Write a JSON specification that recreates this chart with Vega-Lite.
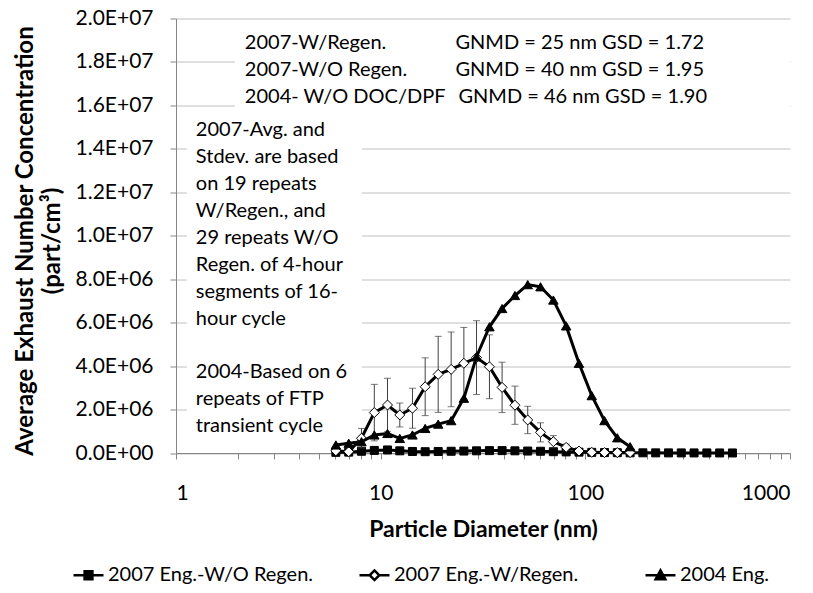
{
  "$schema": "https://vega.github.io/schema/vega-lite/v6.json",
  "width": 614,
  "height": 434.5,
  "autosize": {"type": "none"},
  "padding": {"left": 176, "top": 18.5, "right": 23, "bottom": 140},
  "background": "white",
  "config": {
    "font": "Lato",
    "view": {"stroke": null},
    "axis": {
      "labelFont": "Lato", "titleFont": "Lato", "labelFontSize": 21, "titleFontSize": 24,
      "labelColor": "#000", "titleColor": "#000", "domainColor": "#868686", "tickColor": "#868686",
      "gridColor": "#c0c0c0", "tickSize": 6
    },
    "legend": {
      "labelFont": "Lato", "labelFontSize": 20, "labelColor": "black", "labelLimit": 0
    }
  },
  "datasets": {
    "pts": [
      {"s":"2007 Eng.-W/O Regen.","d":6.04,"v":30000},
      {"s":"2007 Eng.-W/O Regen.","d":6.98,"v":40000},
      {"s":"2007 Eng.-W/O Regen.","d":8.06,"v":80000},
      {"s":"2007 Eng.-W/O Regen.","d":9.31,"v":120000},
      {"s":"2007 Eng.-W/O Regen.","d":10.8,"v":140000},
      {"s":"2007 Eng.-W/O Regen.","d":12.4,"v":100000},
      {"s":"2007 Eng.-W/O Regen.","d":14.3,"v":70000},
      {"s":"2007 Eng.-W/O Regen.","d":16.5,"v":60000},
      {"s":"2007 Eng.-W/O Regen.","d":19.1,"v":70000},
      {"s":"2007 Eng.-W/O Regen.","d":22.1,"v":80000},
      {"s":"2007 Eng.-W/O Regen.","d":25.5,"v":90000},
      {"s":"2007 Eng.-W/O Regen.","d":29.4,"v":100000},
      {"s":"2007 Eng.-W/O Regen.","d":34.0,"v":110000},
      {"s":"2007 Eng.-W/O Regen.","d":39.2,"v":110000},
      {"s":"2007 Eng.-W/O Regen.","d":45.3,"v":100000},
      {"s":"2007 Eng.-W/O Regen.","d":52.3,"v":90000},
      {"s":"2007 Eng.-W/O Regen.","d":60.4,"v":80000},
      {"s":"2007 Eng.-W/O Regen.","d":69.8,"v":60000},
      {"s":"2007 Eng.-W/O Regen.","d":80.6,"v":50000},
      {"s":"2007 Eng.-W/O Regen.","d":93.1,"v":40000},
      {"s":"2007 Eng.-W/O Regen.","d":107.5,"v":30000},
      {"s":"2007 Eng.-W/O Regen.","d":124.1,"v":20000},
      {"s":"2007 Eng.-W/O Regen.","d":143.3,"v":15000},
      {"s":"2007 Eng.-W/O Regen.","d":165.5,"v":10000},
      {"s":"2007 Eng.-W/O Regen.","d":191.1,"v":8000},
      {"s":"2007 Eng.-W/O Regen.","d":220.7,"v":6000},
      {"s":"2007 Eng.-W/O Regen.","d":254.8,"v":5000},
      {"s":"2007 Eng.-W/O Regen.","d":294.3,"v":4000},
      {"s":"2007 Eng.-W/O Regen.","d":339.8,"v":3000},
      {"s":"2007 Eng.-W/O Regen.","d":392.4,"v":3000},
      {"s":"2007 Eng.-W/O Regen.","d":453.2,"v":2000},
      {"s":"2007 Eng.-W/O Regen.","d":523.3,"v":2000},
      {"s":"2007 Eng.-W/Regen.","d":6.04,"v":100000,"sd":50000},
      {"s":"2007 Eng.-W/Regen.","d":6.98,"v":60000,"sd":50000},
      {"s":"2007 Eng.-W/Regen.","d":8.06,"v":680000,"sd":450000},
      {"s":"2007 Eng.-W/Regen.","d":9.31,"v":1860000,"sd":1300000},
      {"s":"2007 Eng.-W/Regen.","d":10.8,"v":2210000,"sd":1230000},
      {"s":"2007 Eng.-W/Regen.","d":12.4,"v":1750000,"sd":550000},
      {"s":"2007 Eng.-W/Regen.","d":14.3,"v":2060000,"sd":920000},
      {"s":"2007 Eng.-W/Regen.","d":16.5,"v":3050000,"sd":1330000},
      {"s":"2007 Eng.-W/Regen.","d":19.1,"v":3620000,"sd":1750000},
      {"s":"2007 Eng.-W/Regen.","d":22.1,"v":3850000,"sd":1720000},
      {"s":"2007 Eng.-W/Regen.","d":25.5,"v":4130000,"sd":1650000},
      {"s":"2007 Eng.-W/Regen.","d":29.4,"v":4390000,"sd":1700000},
      {"s":"2007 Eng.-W/Regen.","d":34.0,"v":3970000,"sd":1470000},
      {"s":"2007 Eng.-W/Regen.","d":39.2,"v":3020000,"sd":1160000},
      {"s":"2007 Eng.-W/Regen.","d":45.3,"v":2200000,"sd":880000},
      {"s":"2007 Eng.-W/Regen.","d":52.3,"v":1520000,"sd":630000},
      {"s":"2007 Eng.-W/Regen.","d":60.4,"v":950000,"sd":440000},
      {"s":"2007 Eng.-W/Regen.","d":69.8,"v":520000,"sd":280000},
      {"s":"2007 Eng.-W/Regen.","d":80.6,"v":260000,"sd":150000},
      {"s":"2007 Eng.-W/Regen.","d":93.1,"v":90000,"sd":60000},
      {"s":"2007 Eng.-W/Regen.","d":107.5,"v":30000,"sd":20000},
      {"s":"2007 Eng.-W/Regen.","d":124.1,"v":20000,"sd":10000},
      {"s":"2007 Eng.-W/Regen.","d":143.3,"v":20000,"sd":10000},
      {"s":"2007 Eng.-W/Regen.","d":165.5,"v":20000,"sd":10000},
      {"s":"2004 Eng.","d":6.04,"v":370000},
      {"s":"2004 Eng.","d":6.98,"v":450000},
      {"s":"2004 Eng.","d":8.06,"v":520000},
      {"s":"2004 Eng.","d":9.31,"v":830000},
      {"s":"2004 Eng.","d":10.8,"v":900000},
      {"s":"2004 Eng.","d":12.4,"v":670000},
      {"s":"2004 Eng.","d":14.3,"v":830000},
      {"s":"2004 Eng.","d":16.5,"v":1130000},
      {"s":"2004 Eng.","d":19.1,"v":1330000},
      {"s":"2004 Eng.","d":22.1,"v":1490000},
      {"s":"2004 Eng.","d":25.5,"v":2520000},
      {"s":"2004 Eng.","d":29.4,"v":4430000},
      {"s":"2004 Eng.","d":34.0,"v":5810000},
      {"s":"2004 Eng.","d":39.2,"v":6650000},
      {"s":"2004 Eng.","d":45.3,"v":7250000},
      {"s":"2004 Eng.","d":52.3,"v":7750000},
      {"s":"2004 Eng.","d":60.4,"v":7650000},
      {"s":"2004 Eng.","d":69.8,"v":7040000},
      {"s":"2004 Eng.","d":80.6,"v":5850000},
      {"s":"2004 Eng.","d":93.1,"v":4130000},
      {"s":"2004 Eng.","d":107.5,"v":2640000},
      {"s":"2004 Eng.","d":124.1,"v":1490000},
      {"s":"2004 Eng.","d":143.3,"v":700000},
      {"s":"2004 Eng.","d":165.5,"v":290000}
    ],
    "boxes": [
      {"d":1.13,"d2":8.1,"v":600000,"v2":15400000},
      {"d":1.94,"d2":1000,"v":15750000,"v2":19600000}
    ],
    "notes": [
      {"d":2.17,"v":18870000,"t":"2007-W/Regen."},
      {"d":2.17,"v":17630000,"t":"2007-W/O Regen."},
      {"d":2.17,"v":16400000,"t":"2004- W/O DOC/DPF"},
      {"d":23.2,"v":18870000,"t":"GNMD = 25 nm GSD = 1.72"},
      {"d":23.2,"v":17630000,"t":"GNMD = 40 nm GSD = 1.95"},
      {"d":24.0,"v":16400000,"t":"GNMD = 46 nm GSD = 1.90"},
      {"d":1.25,"v":14850000,"t":"2007-Avg. and"},
      {"d":1.25,"v":13610000,"t":"Stdev. are based"},
      {"d":1.25,"v":12380000,"t":"on 19 repeats"},
      {"d":1.25,"v":11140000,"t":"W/Regen., and"},
      {"d":1.25,"v":9900000,"t":"29 repeats W/O"},
      {"d":1.25,"v":8670000,"t":"Regen. of 4-hour"},
      {"d":1.25,"v":7430000,"t":"segments of 16-"},
      {"d":1.25,"v":6190000,"t":"hour cycle"},
      {"d":1.25,"v":3720000,"t":"2004-Based on 6"},
      {"d":1.25,"v":2490000,"t":"repeats of FTP"},
      {"d":1.25,"v":1250000,"t":"transient cycle"}
    ]
  },
  "data": {"name": "pts"},
  "encoding": {
    "x": {
      "field": "d", "type": "quantitative",
      "scale": {"type": "log", "domain": [1, 1000], "nice": false},
      "axis": {
        "values": [1,2,3,4,5,6,7,8,9,10,20,30,40,50,60,70,80,90,100,200,300,400,500,600,700,800,900,1000],
        "labelExpr": "indexof([1,10,100,1000], datum.value) >= 0 ? format(datum.value, 'd') : ''",
        "labelOverlap": false, "grid": false, "labelPadding": 23,
        "title": "Particle Diameter (nm)", "titleFontWeight": "bold",
        "titleFontSize": 23, "titleY": 83, "titleBaseline": "alphabetic"
      }
    },
    "y": {
      "field": "v", "type": "quantitative",
      "scale": {"domain": [0, 20000000], "nice": false},
      "axis": {
        "values": [0,2000000,4000000,6000000,8000000,10000000,12000000,14000000,16000000,18000000,20000000],
        "labelExpr": "datum.value == 0 ? '0.0E+00' : format(datum.value / pow(10, floor(log(datum.value)/LN10 + 1e-9)), '.1f') + 'E+' + (floor(log(datum.value)/LN10 + 1e-9) < 10 ? '0' : '') + floor(log(datum.value)/LN10 + 1e-9)",
        "grid": true, "labelPadding": 17,
        "title": ["Average Exhaust Number Concentration", "(part/cm³)"],
        "titleFontWeight": "bold", "titleX": -163, "titleY": 222,
        "titleBaseline": "top", "titleLineHeight": 27
      }
    }
  },
  "layer": [
    {
      "data": {"name": "boxes"},
      "mark": {"type": "rect", "fill": "white", "stroke": null},
      "encoding": {"x2": {"field": "d2"}, "y2": {"field": "v2"}}
    },
    {
      "transform": [{"filter": "false"}],
      "mark": {"type": "point", "filled": true, "strokeWidth": 2.5, "size": 900, "opacity": 1},
      "encoding": {
        "shape": {"field": "s", "type": "nominal",
          "scale": {"domain": ["2007 Eng.-W/O Regen.", "2007 Eng.-W/Regen.", "2004 Eng."],
            "range": ["M-1,0H1M-0.26,-0.26H0.26V0.26H-0.26Z", "M-1,0H-0.32M0.32,0H1M-0.32,0L0,-0.32L0.32,0L0,0.32Z", "M-1,0H1M-0.32,0.26L0,-0.32L0.32,0.26Z"]},
          "legend": {"title": null, "orient": "none", "legendX": -104, "legendY": 540, "direction": "horizontal",
            "symbolSize": 900, "columnPadding": 40, "gridAlign": "all", "labelOffset": 3, "symbolStrokeWidth": 2.5}
        },
        "fill": {"field": "s", "type": "nominal",
          "scale": {"domain": ["2007 Eng.-W/O Regen.", "2007 Eng.-W/Regen.", "2004 Eng."], "range": ["black", "white", "black"]},
          "legend": {"title": null, "orient": "none", "legendX": -104, "legendY": 540, "direction": "horizontal",
            "symbolSize": 900, "columnPadding": 40, "gridAlign": "all", "labelOffset": 3, "symbolStrokeWidth": 2.5}
        },
        "stroke": {"field": "s", "type": "nominal",
          "scale": {"domain": ["2007 Eng.-W/O Regen.", "2007 Eng.-W/Regen.", "2004 Eng."], "range": ["black", "black", "black"]},
          "legend": {"title": null, "orient": "none", "legendX": -104, "legendY": 540, "direction": "horizontal",
            "symbolSize": 900, "columnPadding": 40, "gridAlign": "all", "labelOffset": 3, "symbolStrokeWidth": 2.5}
        }
      }
    },
    {
      "transform": [{"filter": "datum.s === '2007 Eng.-W/O Regen.'"}],
      "mark": {"type": "line", "color": "black", "strokeWidth": 3},
      "encoding": {}
    },
    {
      "transform": [{"filter": "datum.s === '2007 Eng.-W/O Regen.'"}],
      "mark": {"type": "point", "shape": "square", "filled": true, "fill": "black", "stroke": "black", "strokeWidth": 1, "size": 64, "opacity": 1},
      "encoding": {}
    },
    {
      "transform": [{"filter": "datum.s === '2007 Eng.-W/Regen.'"}],
      "mark": {"type": "errorbar", "color": "#404040", "thickness": 1, "ticks": {"size": 7}},
      "encoding": {"yError": {"field": "sd"}}
    },
    {
      "transform": [{"filter": "datum.s === '2007 Eng.-W/Regen.'"}],
      "mark": {"type": "line", "color": "black", "strokeWidth": 3},
      "encoding": {}
    },
    {
      "transform": [{"filter": "datum.s === '2007 Eng.-W/Regen.'"}],
      "mark": {"type": "point", "shape": "diamond", "filled": true, "fill": "white", "stroke": "black", "strokeWidth": 1, "size": 100, "opacity": 1},
      "encoding": {}
    },
    {
      "transform": [{"filter": "datum.s === '2004 Eng.'"}],
      "mark": {"type": "line", "color": "black", "strokeWidth": 3},
      "encoding": {}
    },
    {
      "transform": [{"filter": "datum.s === '2004 Eng.'"}],
      "mark": {"type": "point", "shape": "triangle-up", "filled": true, "fill": "black", "stroke": "black", "strokeWidth": 1, "size": 90, "opacity": 1},
      "encoding": {}
    },
    {
      "data": {"name": "notes"},
      "mark": {"type": "text", "align": "left", "baseline": "middle", "font": "Lato", "fontSize": 20, "color": "black"},
      "encoding": {"text": {"field": "t"}}
    }
  ]
}
